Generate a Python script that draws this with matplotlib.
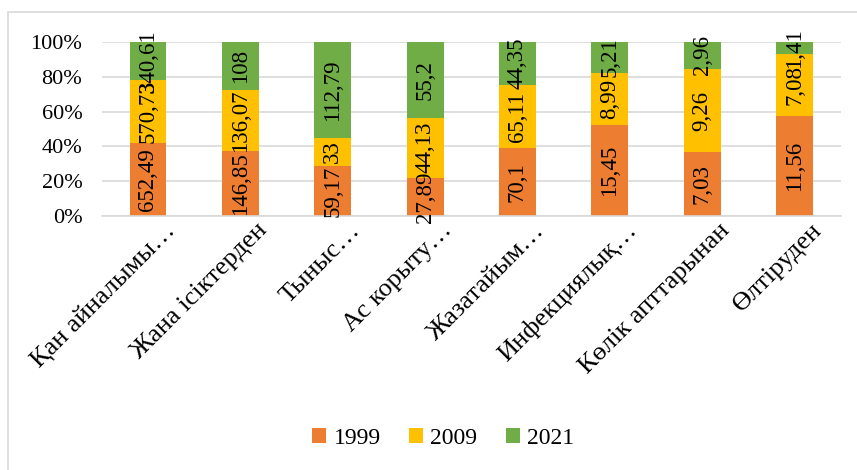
import numpy as np
import matplotlib.pyplot as plt
from matplotlib.patches import Rectangle
from matplotlib.transforms import ScaledTranslation

plt.rcParams['font.family'] = ['Liberation Serif', 'DejaVu Serif']

# Causes of death and counts for each year
categories = ['Қан айналымы…', 'Жана ісіктерден', 'Тыныс…', 'Ас корыту…',
              'Жазатайым…', 'Инфекциялық…', 'Көлік апттарынан', 'Өлтіруден']
years = ['1999', '2009', '2021']
v1999 = [652.49, 146.85, 59.17, 27.89, 70.1, 15.45, 7.03, 11.56]
v2009 = [570.73, 136.07, 33, 44.13, 65.11, 8.99, 9.26, 7.08]
v2021 = [340.61, 108, 112.79, 55.2, 44.35, 5.21, 2.96, 1.41]
colors = ['#ED7D31', '#FFC000', '#70AD47']

series = np.array([v1999, v2009, v2021], dtype=float)
shares = series / series.sum(axis=0) * 100

fig = plt.figure(figsize=(8.57, 4.70), dpi=100)
ax = fig.add_axes([0.1188, 0.5404, 0.8623, 0.3702])

# light frame round the chart
fig.patches.append(Rectangle((8 / 857, -0.1), 1.2, 1.1 - 12 / 470, transform=fig.transFigure,
                             fill=False, edgecolor='#d9d9d9', linewidth=1.2))

x = np.arange(len(categories))
bottom = np.zeros(len(categories))
for year, vals, pct, col in zip(years, series, shares, colors):
    ax.bar(x, pct, 0.4, bottom=bottom, color=col, label=year, zorder=2)
    for xi, b, p, v in zip(x, bottom, pct, vals):
        txt = f'{v:g}'.replace('.', ',')
        ax.text(xi, b + p / 2, txt, rotation=90, ha='center', va='center',
                fontsize=16.5, color='black', zorder=3)
    bottom += pct

ax.set_xlim(-0.5, 7.5)
ax.set_ylim(0, 100)
ax.set_yticks(np.arange(0, 101, 20))
ax.set_yticklabels([f'{t}%' for t in range(0, 101, 20)], fontsize=16)
ax.yaxis.grid(True, color='#d9d9d9', linewidth=1.2, zorder=0)
ax.tick_params(axis='both', length=0)
ax.tick_params(axis='y', pad=14)
for s in ['top', 'right', 'left']:
    ax.spines[s].set_visible(False)
ax.spines['bottom'].set_color('#d9d9d9')
ax.spines['bottom'].set_linewidth(1.2)

ax.set_xticks(x)
ax.set_xticklabels(categories, fontsize=19, rotation=45, ha='right',
                   va='center', rotation_mode='anchor')
ax.tick_params(axis='x', pad=8)
offset = ScaledTranslation(17 / 72, 0, fig.dpi_scale_trans)
for lab in ax.get_xticklabels():
    lab.set_transform(lab.get_transform() + offset)

fig.legend(loc='center', bbox_to_anchor=(0.517, 0.068), ncol=3, frameon=False,
           fontsize=17, handlelength=0.6, handleheight=0.6, handletextpad=0.3,
           columnspacing=1.2)

fig.savefig('out.png', dpi=100)
